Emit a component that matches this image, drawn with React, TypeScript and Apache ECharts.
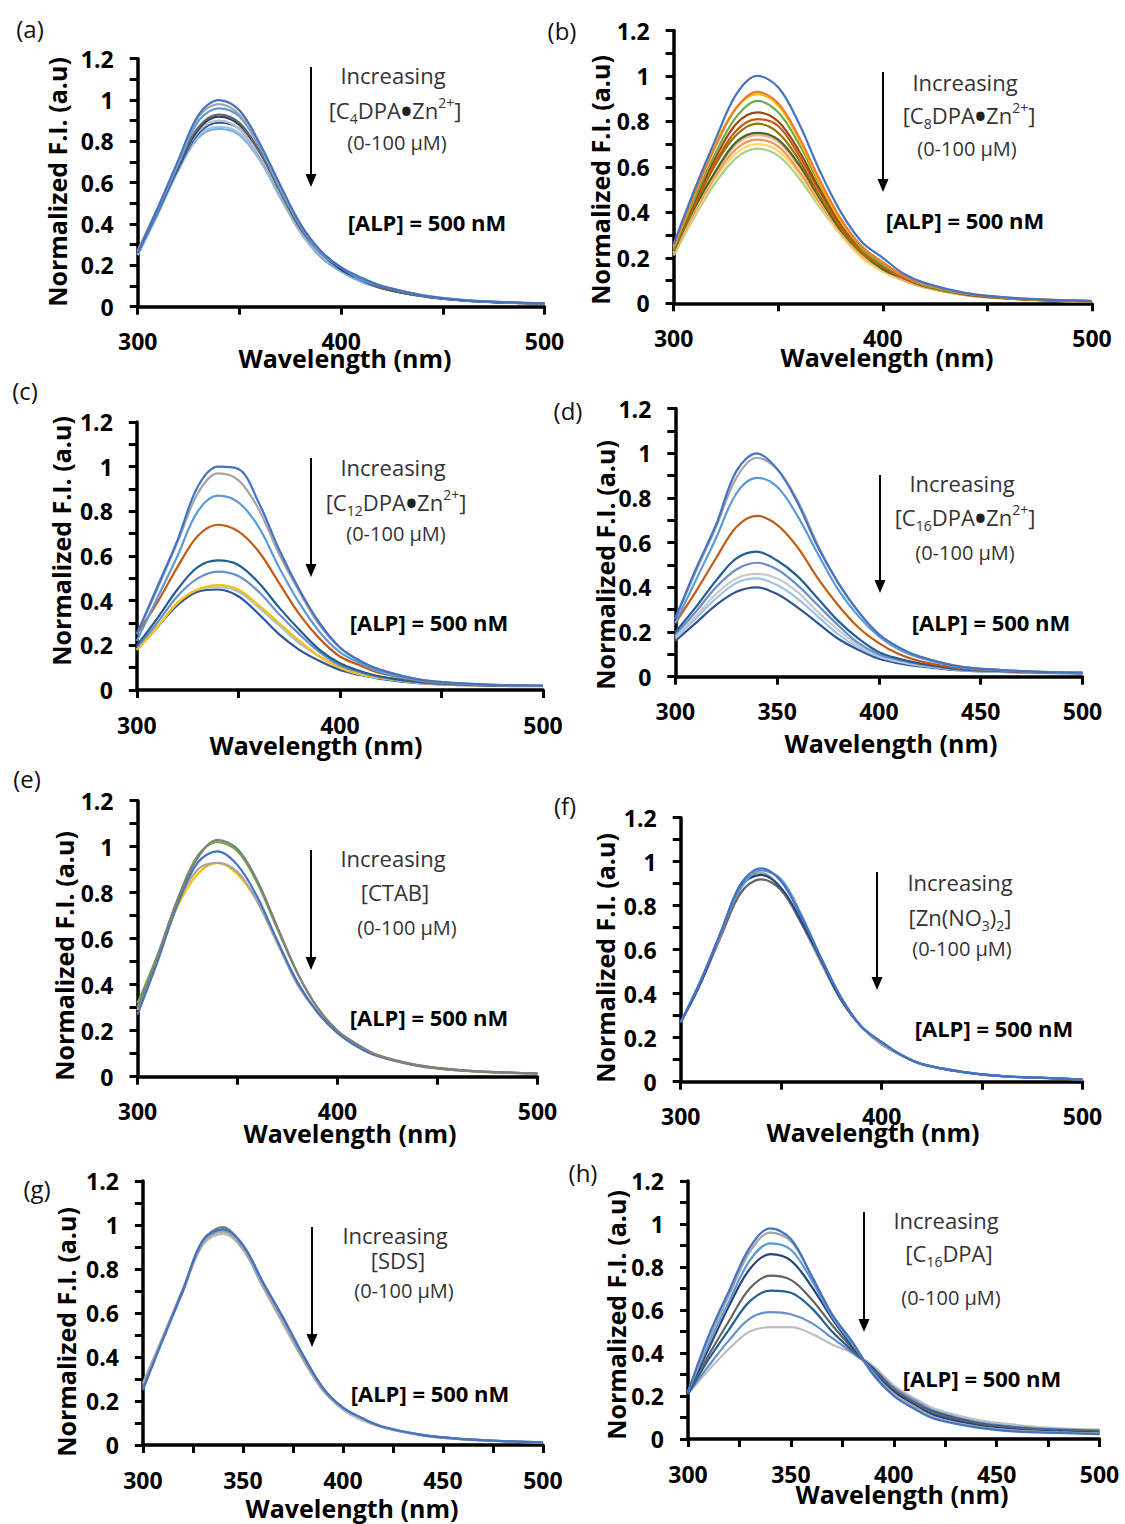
import React, { useEffect, useRef } from "react";
import * as echarts from "echarts";

// ---------- data ----------
const wavelengths = [300, 310, 320, 330, 340, 350, 360, 370, 380, 390, 400, 410, 420, 440, 460, 480, 500];

// (a) C4DPA•Zn2+
const panelA = [
  [0.26, 0.48, 0.71, 0.93, 1.0, 0.95, 0.79, 0.59, 0.4, 0.27, 0.19, 0.14, 0.1, 0.055, 0.032, 0.022, 0.016],
  [0.27, 0.48, 0.7, 0.92, 0.98, 0.93, 0.78, 0.58, 0.4, 0.27, 0.19, 0.14, 0.1, 0.056, 0.033, 0.022, 0.016],
  [0.26, 0.47, 0.69, 0.9, 0.96, 0.92, 0.77, 0.57, 0.39, 0.26, 0.19, 0.13, 0.1, 0.054, 0.032, 0.021, 0.016],
  [0.27, 0.48, 0.69, 0.87, 0.93, 0.89, 0.75, 0.56, 0.38, 0.26, 0.19, 0.13, 0.09, 0.053, 0.031, 0.021, 0.015],
  [0.26, 0.47, 0.68, 0.86, 0.92, 0.88, 0.75, 0.56, 0.38, 0.26, 0.18, 0.13, 0.09, 0.052, 0.03, 0.02, 0.015],
  [0.27, 0.47, 0.68, 0.85, 0.9, 0.86, 0.73, 0.55, 0.37, 0.25, 0.18, 0.13, 0.09, 0.052, 0.03, 0.02, 0.015],
  [0.26, 0.46, 0.67, 0.84, 0.89, 0.86, 0.73, 0.55, 0.37, 0.25, 0.18, 0.13, 0.09, 0.051, 0.03, 0.02, 0.015],
  [0.25, 0.45, 0.66, 0.83, 0.87, 0.84, 0.72, 0.54, 0.36, 0.25, 0.18, 0.13, 0.09, 0.051, 0.03, 0.02, 0.015],
  [0.25, 0.45, 0.66, 0.82, 0.86, 0.83, 0.71, 0.53, 0.36, 0.24, 0.17, 0.12, 0.09, 0.05, 0.029, 0.02, 0.014],
];
const colorsA = ["#4472C4", "#A5A5A5", "#5B9BD5", "#636363", "#264478", "#BFBFBF", "#2F5597", "#9DC3E6", "#7CAFDD"];

// (b) C8DPA•Zn2+
const panelB = [
  [0.26, 0.5, 0.72, 0.92, 1.0, 0.95, 0.79, 0.58, 0.4, 0.27, 0.2, 0.13, 0.09, 0.045, 0.025, 0.015, 0.01],
  [0.25, 0.48, 0.69, 0.86, 0.93, 0.88, 0.73, 0.54, 0.37, 0.25, 0.18, 0.12, 0.085, 0.043, 0.024, 0.015, 0.01],
  [0.25, 0.48, 0.7, 0.86, 0.92, 0.87, 0.72, 0.53, 0.36, 0.25, 0.18, 0.12, 0.085, 0.043, 0.024, 0.015, 0.01],
  [0.24, 0.46, 0.66, 0.82, 0.89, 0.84, 0.7, 0.52, 0.36, 0.24, 0.17, 0.12, 0.08, 0.042, 0.023, 0.014, 0.01],
  [0.24, 0.45, 0.64, 0.79, 0.84, 0.8, 0.67, 0.5, 0.35, 0.24, 0.17, 0.12, 0.08, 0.041, 0.023, 0.014, 0.01],
  [0.24, 0.44, 0.62, 0.76, 0.81, 0.78, 0.65, 0.49, 0.34, 0.23, 0.16, 0.11, 0.08, 0.04, 0.022, 0.014, 0.01],
  [0.23, 0.43, 0.61, 0.74, 0.79, 0.75, 0.63, 0.47, 0.33, 0.22, 0.16, 0.11, 0.075, 0.039, 0.022, 0.013, 0.009],
  [0.23, 0.42, 0.58, 0.71, 0.75, 0.72, 0.61, 0.46, 0.32, 0.22, 0.15, 0.11, 0.075, 0.038, 0.021, 0.013, 0.009],
  [0.22, 0.41, 0.57, 0.7, 0.74, 0.71, 0.6, 0.45, 0.31, 0.21, 0.15, 0.1, 0.072, 0.037, 0.021, 0.013, 0.009],
  [0.22, 0.4, 0.56, 0.68, 0.72, 0.69, 0.58, 0.44, 0.31, 0.21, 0.15, 0.1, 0.07, 0.036, 0.02, 0.012, 0.008],
  [0.22, 0.39, 0.55, 0.66, 0.7, 0.67, 0.57, 0.43, 0.3, 0.2, 0.14, 0.1, 0.07, 0.036, 0.02, 0.012, 0.008],
  [0.21, 0.38, 0.53, 0.64, 0.68, 0.65, 0.55, 0.42, 0.3, 0.2, 0.14, 0.1, 0.07, 0.035, 0.02, 0.012, 0.008],
];
const colorsB = ["#4472C4", "#ED7D31", "#FFC000", "#70AD47", "#9E480E", "#C55A11", "#997300", "#43682B", "#F4B183", "#F1975A", "#FFD966", "#A9D18E"];

// (c) C12DPA•Zn2+
const panelC = [
  [0.25, 0.46, 0.67, 0.91, 1.0, 0.99, 0.84, 0.63, 0.45, 0.3, 0.19, 0.13, 0.09, 0.045, 0.03, 0.022, 0.02],
  [0.25, 0.45, 0.66, 0.88, 0.97, 0.94, 0.81, 0.61, 0.44, 0.29, 0.19, 0.13, 0.09, 0.045, 0.03, 0.022, 0.02],
  [0.22, 0.41, 0.6, 0.8, 0.87, 0.84, 0.73, 0.55, 0.39, 0.26, 0.17, 0.12, 0.08, 0.042, 0.028, 0.021, 0.019],
  [0.25, 0.39, 0.55, 0.69, 0.74, 0.71, 0.62, 0.48, 0.34, 0.23, 0.15, 0.11, 0.075, 0.04, 0.027, 0.02, 0.018],
  [0.2, 0.32, 0.45, 0.55, 0.58, 0.56, 0.48, 0.37, 0.27, 0.18, 0.12, 0.085, 0.06, 0.035, 0.025, 0.019, 0.018],
  [0.19, 0.3, 0.42, 0.5, 0.53, 0.51, 0.44, 0.34, 0.25, 0.17, 0.11, 0.08, 0.058, 0.033, 0.024, 0.019, 0.018],
  [0.18, 0.28, 0.39, 0.45, 0.47, 0.45, 0.38, 0.3, 0.22, 0.15, 0.1, 0.072, 0.054, 0.032, 0.023, 0.018, 0.017],
  [0.18, 0.28, 0.39, 0.45, 0.46, 0.44, 0.37, 0.29, 0.21, 0.15, 0.1, 0.07, 0.053, 0.031, 0.023, 0.018, 0.017],
  [0.18, 0.28, 0.38, 0.44, 0.45, 0.42, 0.34, 0.25, 0.18, 0.13, 0.09, 0.067, 0.05, 0.03, 0.022, 0.018, 0.018],
];
const colorsC = ["#4472C4", "#A5A5A5", "#5B9BD5", "#C55A11", "#255E91", "#698ED0", "#FFC000", "#9DC3E6", "#2F5597"];

// (d) C16DPA•Zn2+
const panelD = [
  [0.26, 0.48, 0.68, 0.92, 1.0, 0.93, 0.78, 0.58, 0.42, 0.29, 0.19, 0.13, 0.09, 0.045, 0.03, 0.022, 0.018],
  [0.26, 0.47, 0.67, 0.89, 0.98, 0.93, 0.79, 0.59, 0.42, 0.29, 0.19, 0.13, 0.09, 0.045, 0.03, 0.022, 0.018],
  [0.24, 0.43, 0.62, 0.82, 0.89, 0.85, 0.72, 0.55, 0.39, 0.27, 0.18, 0.12, 0.085, 0.043, 0.029, 0.021, 0.017],
  [0.24, 0.38, 0.53, 0.67, 0.72, 0.68, 0.58, 0.44, 0.32, 0.22, 0.15, 0.1, 0.07, 0.038, 0.027, 0.02, 0.016],
  [0.2, 0.31, 0.43, 0.53, 0.56, 0.52, 0.45, 0.35, 0.25, 0.17, 0.11, 0.08, 0.06, 0.034, 0.025, 0.019, 0.016],
  [0.19, 0.29, 0.4, 0.48, 0.51, 0.48, 0.41, 0.32, 0.23, 0.15, 0.1, 0.075, 0.055, 0.032, 0.024, 0.019, 0.016],
  [0.18, 0.27, 0.37, 0.44, 0.46, 0.44, 0.38, 0.29, 0.21, 0.14, 0.095, 0.07, 0.052, 0.031, 0.023, 0.018, 0.015],
  [0.17, 0.26, 0.35, 0.42, 0.44, 0.41, 0.35, 0.27, 0.19, 0.13, 0.09, 0.066, 0.05, 0.03, 0.022, 0.018, 0.015],
  [0.16, 0.24, 0.32, 0.38, 0.4, 0.37, 0.31, 0.24, 0.17, 0.12, 0.08, 0.06, 0.046, 0.028, 0.021, 0.017, 0.015],
];
const colorsD = ["#4472C4", "#A5A5A5", "#5B9BD5", "#C55A11", "#255E91", "#698ED0", "#C9C9C9", "#9DC3E6", "#2F5597"];

// (e) CTAB
const panelE = [
  [0.3, 0.52, 0.77, 0.95, 1.03, 0.99, 0.85, 0.65, 0.45, 0.3, 0.2, 0.14, 0.094, 0.05, 0.03, 0.02, 0.015],
  [0.32, 0.53, 0.77, 0.96, 1.02, 0.98, 0.84, 0.64, 0.45, 0.3, 0.2, 0.14, 0.094, 0.05, 0.03, 0.02, 0.015],
  [0.27, 0.5, 0.75, 0.93, 0.98, 0.92, 0.78, 0.59, 0.41, 0.28, 0.19, 0.13, 0.09, 0.048, 0.028, 0.019, 0.014],
  [0.3, 0.51, 0.75, 0.9, 0.93, 0.89, 0.76, 0.58, 0.4, 0.28, 0.19, 0.13, 0.09, 0.048, 0.028, 0.019, 0.014],
  [0.29, 0.51, 0.74, 0.88, 0.93, 0.88, 0.76, 0.58, 0.41, 0.28, 0.19, 0.13, 0.09, 0.047, 0.027, 0.018, 0.013],
];
const colorsE = ["#7F7F7F", "#70AD47", "#4472C4", "#A5A5A5", "#FFC000"];

// (f) Zn(NO3)2
const panelF = [
  [0.27, 0.46, 0.68, 0.9, 0.97, 0.91, 0.75, 0.56, 0.38, 0.25, 0.18, 0.12, 0.08, 0.045, 0.025, 0.018, 0.01],
  [0.27, 0.46, 0.68, 0.88, 0.96, 0.92, 0.76, 0.56, 0.38, 0.25, 0.18, 0.12, 0.08, 0.045, 0.025, 0.018, 0.01],
  [0.27, 0.45, 0.68, 0.89, 0.94, 0.88, 0.73, 0.55, 0.37, 0.25, 0.18, 0.12, 0.08, 0.045, 0.025, 0.018, 0.01],
  [0.27, 0.46, 0.67, 0.9, 0.95, 0.88, 0.73, 0.54, 0.37, 0.25, 0.17, 0.12, 0.08, 0.044, 0.025, 0.017, 0.01],
  [0.27, 0.45, 0.66, 0.86, 0.92, 0.87, 0.72, 0.54, 0.37, 0.25, 0.17, 0.12, 0.08, 0.044, 0.025, 0.017, 0.01],
];
const colorsF = ["#4472C4", "#5B9BD5", "#264478", "#A5A5A5", "#636363"];

// (g) SDS
const panelG = [
  [0.25, 0.48, 0.7, 0.93, 0.98, 0.91, 0.74, 0.58, 0.41, 0.26, 0.17, 0.12, 0.083, 0.045, 0.027, 0.018, 0.012],
  [0.28, 0.49, 0.7, 0.92, 0.97, 0.89, 0.72, 0.56, 0.39, 0.25, 0.17, 0.12, 0.08, 0.044, 0.026, 0.017, 0.011],
  [0.27, 0.49, 0.71, 0.93, 0.99, 0.9, 0.73, 0.57, 0.4, 0.25, 0.17, 0.12, 0.082, 0.045, 0.027, 0.018, 0.012],
  [0.26, 0.48, 0.7, 0.92, 0.98, 0.91, 0.74, 0.58, 0.41, 0.26, 0.17, 0.12, 0.083, 0.046, 0.028, 0.018, 0.012],
  [0.28, 0.49, 0.7, 0.91, 0.96, 0.89, 0.72, 0.55, 0.39, 0.25, 0.16, 0.11, 0.08, 0.043, 0.026, 0.017, 0.011],
];
const colorsG = ["#4472C4", "#A5A5A5", "#7F7F7F", "#5B9BD5", "#BFBFBF"];

// (h) C16DPA
const panelH = [
  [0.22, 0.48, 0.69, 0.89, 0.98, 0.93, 0.76, 0.58, 0.45, 0.3, 0.2, 0.14, 0.093, 0.054, 0.034, 0.028, 0.023],
  [0.22, 0.46, 0.67, 0.87, 0.96, 0.92, 0.76, 0.58, 0.45, 0.3, 0.21, 0.15, 0.1, 0.058, 0.038, 0.031, 0.026],
  [0.22, 0.44, 0.64, 0.83, 0.91, 0.88, 0.74, 0.57, 0.44, 0.31, 0.21, 0.15, 0.1, 0.058, 0.038, 0.03, 0.025],
  [0.22, 0.42, 0.62, 0.79, 0.86, 0.83, 0.71, 0.56, 0.43, 0.31, 0.22, 0.16, 0.11, 0.065, 0.043, 0.034, 0.029],
  [0.22, 0.39, 0.55, 0.7, 0.76, 0.74, 0.65, 0.53, 0.42, 0.32, 0.23, 0.17, 0.12, 0.072, 0.05, 0.04, 0.035],
  [0.21, 0.37, 0.51, 0.64, 0.69, 0.68, 0.61, 0.5, 0.41, 0.33, 0.23, 0.17, 0.125, 0.075, 0.052, 0.042, 0.036],
  [0.21, 0.34, 0.46, 0.56, 0.59, 0.58, 0.54, 0.47, 0.4, 0.33, 0.24, 0.18, 0.13, 0.08, 0.056, 0.045, 0.04],
  [0.21, 0.32, 0.42, 0.5, 0.52, 0.52, 0.49, 0.44, 0.4, 0.34, 0.25, 0.19, 0.14, 0.09, 0.065, 0.05, 0.045],
];
const colorsH = ["#4472C4", "#A5A5A5", "#5B9BD5", "#264478", "#636363", "#255E91", "#698ED0", "#BFBFBF"];

const panelLetters = ["(a)", "(b)", "(c)", "(d)", "(e)", "(f)", "(g)", "(h)"];
const analyteLabels = [
  "[C{s|4}DPA{d|•}Zn{p|2+}]",
  "[C{s|8}DPA{d|•}Zn{p|2+}]",
  "[C{s|12}DPA{d|•}Zn{p|2+}]",
  "[C{s|16}DPA{d|•}Zn{p|2+}]",
  "[CTAB]",
  "[Zn(NO{s|3}){s|2}]",
  "[SDS]",
  "[C{s|16}DPA]",
];
const increasingText = "Increasing";
const rangeText = "(0-100 µM)";
const enzymeText = "[ALP] = 500 nM";
const xTitle = "Wavelength (nm)";
const yTitle = "Normalized F.I. (a.u)";

// ---------- layout ----------
const FF = "'Open Sans', 'Noto Sans', sans-serif";

const layouts = [
  { l: 137.7, r: 544.5, t: 58.7, b: 306.7, label: [30, 28], yT: [57, 182], xT: [345, 358], arrow: [311, 67, 187], inc: [393, 75], br: [395, 110], conc: [397, 142], alp: [427, 222], step: 100, minor: false },
  { l: 673.6, r: 1092, t: 30.5, b: 303.3, label: [562, 30], yT: [600, 180], xT: [887, 357], arrow: [883, 72, 192], inc: [965, 82], br: [969, 115], conc: [967, 148], alp: [965, 220], step: 100, minor: false },
  { l: 136.8, r: 543, t: 422, b: 690, label: [25, 390], yT: [61, 541], xT: [316, 745], arrow: [311, 458, 577], inc: [393, 467], br: [396, 502], conc: [396, 533], alp: [429, 622], step: 100, minor: false },
  { l: 675.3, r: 1082.5, t: 408.6, b: 676.7, label: [568, 410], yT: [605, 565], xT: [891, 743], arrow: [880, 475, 593], inc: [962, 483], br: [965, 517], conc: [965, 552], alp: [991, 622], step: 50, minor: false },
  { l: 137.5, r: 537.5, t: 800.7, b: 1076.7, label: [27, 778], yT: [64, 956], xT: [350, 1133], arrow: [311, 850, 970], inc: [393, 858], br: [395, 892], conc: [407, 927], alp: [429, 1017], step: 100, minor: false },
  { l: 680.7, r: 1082.5, t: 817.7, b: 1081.7, label: [565, 805], yT: [605, 958], xT: [873, 1132], arrow: [877, 872, 990], inc: [960, 882], br: [960, 917], conc: [962, 948], alp: [994, 1028], step: 100, minor: false },
  { l: 142.9, r: 542.9, t: 1181, b: 1445, label: [37, 1188], yT: [66, 1332], xT: [352, 1508], arrow: [312, 1227, 1347], inc: [395, 1235], br: [398, 1260], conc: [404, 1290], alp: [430, 1393], step: 50, minor: true },
  { l: 688, r: 1099.5, t: 1181, b: 1439, label: [583, 1172], yT: [616, 1315], xT: [902, 1494], arrow: [864, 1212, 1332], inc: [946, 1220], br: [949, 1253], conc: [951, 1297], alp: [982, 1378], step: 50, minor: true },
];

const panels = [panelA, panelB, panelC, panelD, panelE, panelF, panelG, panelH];
const panelColors = [colorsA, colorsB, colorsC, colorsD, colorsE, colorsF, colorsG, colorsH];

function text(x: number, y: number, s: string, font: string, fill = "#000", extra: any = {}) {
  return {
    type: "text",
    x,
    y,
    silent: true,
    style: { text: s, font, fill, textAlign: "center", textVerticalAlign: "middle", ...extra },
  };
}

function buildOption() {
  const grid: any[] = [];
  const xAxis: any[] = [];
  const yAxis: any[] = [];
  const series: any[] = [];
  const graphic: any[] = [];

  layouts.forEach((L, i) => {
    grid.push({ left: L.l, top: L.t, width: L.r - L.l, height: L.b - L.t, containLabel: false });
    const step = L.step;
    xAxis.push({
      gridIndex: i,
      type: "value",
      min: 300,
      max: 500,
      interval: 50,
      axisLine: { show: true, lineStyle: { color: "#000", width: 3.5 } },
      axisTick: { show: true, inside: false, length: 8, lineStyle: { color: "#000", width: 3 } },
      minorTick: { show: L.minor, splitNumber: 2, length: 8, lineStyle: { color: "#000", width: 3 } },
      splitLine: { show: false },
      axisLabel: {
        margin: 23,
        color: "#000",
        fontFamily: FF,
        fontWeight: "bold",
        fontSize: 23,
        formatter: (v: number) => (v % step === 0 ? String(v) : ""),
      },
    });
    yAxis.push({
      gridIndex: i,
      type: "value",
      min: 0,
      max: 1.2,
      interval: 0.2,
      axisLine: { show: true, lineStyle: { color: "#000", width: 3.5 } },
      axisTick: { show: true, inside: false, length: 8, lineStyle: { color: "#000", width: 3 } },
      minorTick: { show: true, splitNumber: 2, length: 8, lineStyle: { color: "#000", width: 3 } },
      splitLine: { show: false },
      axisLabel: { margin: 24, color: "#000", fontFamily: FF, fontWeight: "bold", fontSize: 23 },
    });

    panels[i].forEach((curve, j) => {
      series.push({
        type: "line",
        xAxisIndex: i,
        yAxisIndex: i,
        data: wavelengths.map((w, k) => [w, curve[k]]),
        showSymbol: false,
        symbol: "none",
        smooth: 0.35,
        silent: true,
        lineStyle: { width: 2.2, color: panelColors[i][j] },
        z: 2 + (panels[i].length - j),
      });
    });

    // panel letter
    graphic.push(text(L.label[0], L.label[1], panelLetters[i], `24px ${FF}`, "#111"));
    // axis titles
    graphic.push(text(L.xT[0], L.xT[1], xTitle, `bold 25px ${FF}`, "#000"));
    graphic.push({
      type: "text",
      x: L.yT[0],
      y: L.yT[1],
      rotation: Math.PI / 2,
      silent: true,
      style: { text: yTitle, font: `bold 25px ${FF}`, fill: "#000", textAlign: "center", textVerticalAlign: "middle" },
    });
    // arrow
    const [ax, ay1, ay2] = L.arrow;
    graphic.push({
      type: "line",
      silent: true,
      shape: { x1: ax, y1: ay1, x2: ax, y2: ay2 - 10 },
      style: { stroke: "#000", lineWidth: 2 },
    });
    graphic.push({
      type: "polygon",
      silent: true,
      shape: { points: [[ax - 5.5, ay2 - 13], [ax + 5.5, ay2 - 13], [ax, ay2]] },
      style: { fill: "#000" },
    });
    // annotations
    graphic.push(text(L.inc[0], L.inc[1], increasingText, `22px ${FF}`, "#333"));
    graphic.push(
      text(L.br[0], L.br[1], analyteLabels[i], `22px ${FF}`, "#333", {
        lineHeight: 30,
        rich: {
          s: { font: `14px ${FF}`, fill: "#333", lineHeight: 14, verticalAlign: "bottom" },
          p: { font: `14px ${FF}`, fill: "#333", lineHeight: 14, verticalAlign: "top" },
          d: { font: `bold 30px ${FF}`, fill: "#222", lineHeight: 30 },
        },
      })
    );
    graphic.push(text(L.conc[0], L.conc[1], rangeText, `20px ${FF}`, "#333"));
    graphic.push(text(L.alp[0], L.alp[1], enzymeText, `bold 22px ${FF}`, "#000"));
  });

  return {
    animation: false,
    backgroundColor: "#fff",
    grid,
    xAxis,
    yAxis,
    series,
    graphic: { elements: graphic },
  };
}

export default function App() {
  const ref = useRef<HTMLDivElement>(null);
  useEffect(() => {
    if (!ref.current) return;
    const chart = echarts.init(ref.current, undefined, { renderer: "svg" });
    chart.setOption(buildOption() as any);
    return () => chart.dispose();
  }, []);
  return (
    <div
      ref={ref}
      style={{ position: "absolute", left: 0, top: 0, width: 1125, height: 1524, background: "#fff" }}
    />
  );
}
